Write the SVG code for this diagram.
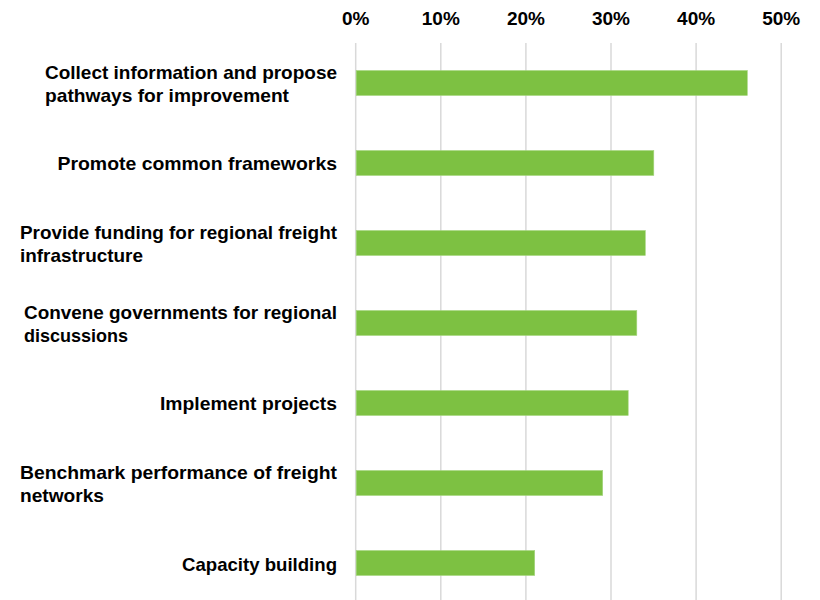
<svg xmlns="http://www.w3.org/2000/svg" width="820" height="600" viewBox="0 0 820 600">
<style>
.grid{stroke:#D9D9D9;stroke-width:1.5}
.bar{fill:#7DC142;stroke:#A6D57F;stroke-width:0.6}
.ax{font-family:"Liberation Sans",Arial,sans-serif;font-weight:bold;font-size:19px;fill:#000;text-anchor:middle}
.lbl{font-family:"Liberation Sans",Arial,sans-serif;font-weight:bold;font-size:19px;fill:#000}
</style>
<rect width="820" height="600" fill="#fff"/>
<g id="gridlines">
<line class="grid" x1="355.7" y1="43" x2="355.7" y2="600"/>
<line class="grid" x1="440.8" y1="43" x2="440.8" y2="600"/>
<line class="grid" x1="525.9" y1="43" x2="525.9" y2="600"/>
<line class="grid" x1="611" y1="43" x2="611" y2="600"/>
<line class="grid" x1="696.1" y1="43" x2="696.1" y2="600"/>
<line class="grid" x1="781.2" y1="43" x2="781.2" y2="600"/>
</g>
<g id="axis">
<text class="ax" x="355.7" y="24.5">0%</text>
<text class="ax" x="440.8" y="24.5">10%</text>
<text class="ax" x="525.9" y="24.5">20%</text>
<text class="ax" x="611" y="24.5">30%</text>
<text class="ax" x="696.1" y="24.5">40%</text>
<text class="ax" x="781.2" y="24.5">50%</text>
</g>
<g id="bar1">
<rect class="bar" x="356.2" y="70.5" width="391.1" height="25"/>
<text class="lbl" x="45" y="78.5" textLength="292" lengthAdjust="spacingAndGlyphs">Collect information and propose</text>
<text class="lbl" x="45" y="101.5" textLength="244" lengthAdjust="spacingAndGlyphs">pathways for improvement</text>
</g>
<g id="bar2">
<rect class="bar" x="356.2" y="150.5" width="297.6" height="25"/>
<text class="lbl" x="57.5" y="170" textLength="279.5" lengthAdjust="spacingAndGlyphs">Promote common frameworks</text>
</g>
<g id="bar3">
<rect class="bar" x="356.2" y="230.5" width="289.1" height="25"/>
<text class="lbl" x="20" y="238.5" textLength="317" lengthAdjust="spacingAndGlyphs">Provide funding for regional freight</text>
<text class="lbl" x="20" y="261.5" textLength="123" lengthAdjust="spacingAndGlyphs">infrastructure</text>
</g>
<g id="bar4">
<rect class="bar" x="356.2" y="310.5" width="280.6" height="25"/>
<text class="lbl" x="24" y="318.5" textLength="313" lengthAdjust="spacingAndGlyphs">Convene governments for regional</text>
<text class="lbl" x="24" y="341.5" textLength="104" lengthAdjust="spacingAndGlyphs">discussions</text>
</g>
<g id="bar5">
<rect class="bar" x="356.2" y="390.5" width="272" height="25"/>
<text class="lbl" x="160" y="410" textLength="177" lengthAdjust="spacingAndGlyphs">Implement projects</text>
</g>
<g id="bar6">
<rect class="bar" x="356.2" y="470.5" width="246.5" height="25"/>
<text class="lbl" x="20" y="478.5" textLength="317" lengthAdjust="spacingAndGlyphs">Benchmark performance of freight</text>
<text class="lbl" x="20" y="501.5" textLength="84" lengthAdjust="spacingAndGlyphs">networks</text>
</g>
<g id="bar7">
<rect class="bar" x="356.2" y="550.5" width="178.5" height="25"/>
<text class="lbl" x="182" y="570.5" textLength="155" lengthAdjust="spacingAndGlyphs">Capacity building</text>
</g>
</svg>
